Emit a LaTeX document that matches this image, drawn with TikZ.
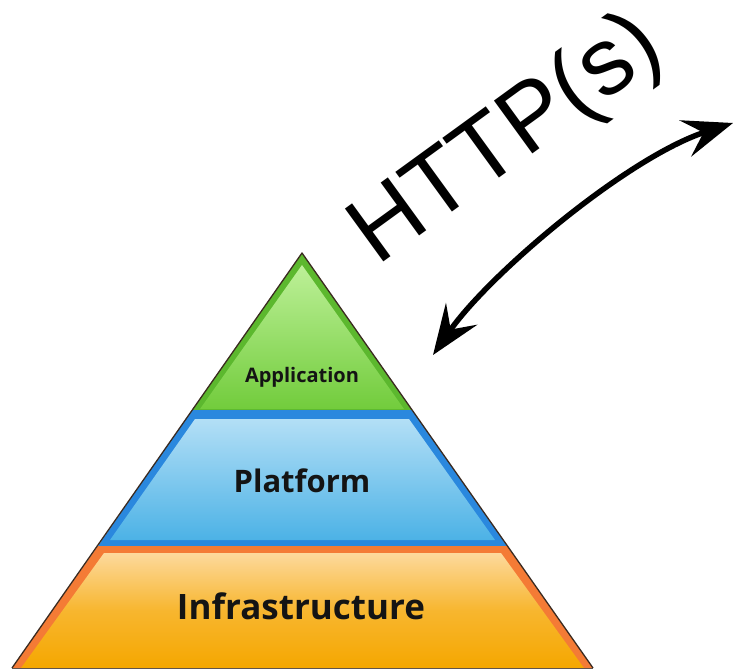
\documentclass[tikz,border=0pt]{standalone}
\usepackage{fontspec}
\setmainfont{Liberation Sans}
\newfontfamily\layerfont{Open Sans}[BoldFont={* Bold}]
\usetikzlibrary{arrows.meta}
\definecolor{gEdge}{HTML}{5CB82E}
\definecolor{gTop}{HTML}{BDF098}
\definecolor{gBot}{HTML}{72CC3C}
\definecolor{bEdge}{HTML}{2A88DE}
\definecolor{bTop}{HTML}{B3DFF6}
\definecolor{bBot}{HTML}{4CB2E6}
\definecolor{oEdge}{HTML}{F47B35}
\definecolor{oTop}{HTML}{FDD99C}
\definecolor{oBot}{HTML}{F5A700}
\definecolor{outline}{HTML}{3A2A20}
\tikzset{
  layertext/.style={font=\layerfont\bfseries, text=black!92, inner sep=0pt},
  httparrow/.style={line width=5.5pt, {Stealth[length=50pt,width=38pt,inset=19pt]}-{Stealth[length=50pt,width=38pt,inset=19pt]}},
}
\begin{document}
\begin{tikzpicture}[x=1pt,y=1pt]
\useasboundingbox (0,0) rectangle (735,670);
% green layer
\fill[gEdge] (302,417) -- (412,260) -- (192,260) -- cycle;
\shade[top color=gTop, bottom color=gBot] (302,405) -- (404,261) -- (200,261) -- cycle;
% blue layer
\fill[bEdge] (192,260) -- (412,260) -- (507,124) -- (98,124) -- cycle;
\shade[top color=bTop, bottom color=bBot] (195,251) -- (409,251) -- (495,130) -- (110,130) -- cycle;
% orange layer
\fill[oEdge] (98,124) -- (507,124) -- (593,2) -- (12,2) -- cycle;
\shade[top color=oTop, bottom color=oBot, middle color=oBot!70!oTop] (104,117) -- (501,117) -- (584,2) -- (21,2) -- cycle;
% outline
\draw[outline, line width=1.3pt, line join=round] (12,2) -- (302,417) -- (593,2);
\draw[outline!80, line width=1.5pt] (12,1.5) -- (593,1.5);
% labels
\node[layertext, font=\layerfont\bfseries\fontsize{20}{20}\selectfont] (app) at (302,293) {Application};
\node[layertext, font=\layerfont\bfseries\fontsize{31}{31}\selectfont] (plat) at (302,189) {Platform};
\node[layertext, font=\layerfont\bfseries\fontsize{35}{35}\selectfont] (infra) at (301,64) {Infrastructure};
% HTTP(s)
\node[inner sep=0pt, anchor=base west, rotate=36, font=\fontsize{95}{95}\selectfont] (http) at (377,403) {HTTP(s)};
% arrow
\coordinate (pyr) at (433,315);
\coordinate (net) at (733,547);
\draw[httparrow] (pyr) .. controls (490,397) and (628,513) .. (net);
\end{tikzpicture}
\end{document}
